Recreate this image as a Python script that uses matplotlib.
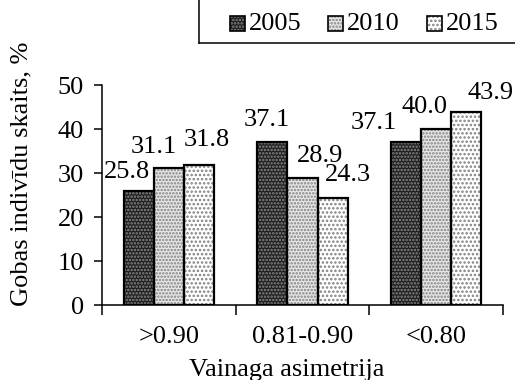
import matplotlib
matplotlib.use("Agg")
import matplotlib.pyplot as plt
from matplotlib.patches import Rectangle
from matplotlib.lines import Line2D
import numpy as np

plt.rcParams['font.family'] = ['Liberation Serif', 'DejaVu Serif']
plt.rcParams['hatch.linewidth'] = 1.2

# Data
categories = [">0.90", "0.81-0.90", "<0.80"]
years = ["2005", "2010", "2015"]
values = {
    "2005": [25.8, 37.1, 37.1],
    "2010": [31.1, 28.9, 40.0],
    "2015": [31.8, 24.3, 43.9],
}

# Fill styles per year: (background, dot colour, hatch)
styles = {
    "2005": ("#1e1e1e", "#8a8a8a", "....."),
    "2010": ("#e8e8e8", "#808080", "....."),
    "2015": ("#ffffff", "#808080", "...."),
}

# Label offsets (pixels) from the top centre of each bar
label_offsets = {
    "2005": [(-12, 19), (-6, 22), (-32, 19)],
    "2010": [(-15, 21), (18, 22), (-12, 22)],
    "2015": [(8, 25), (15, 23), (24, 19)],
}

W, H = 515, 380
fig = plt.figure(figsize=(W / 100, H / 100), dpi=100)
ax = fig.add_axes([102 / W, 1 - 305 / H, (503 - 102) / W, (305 - 85) / H])

FS = 19
x = np.arange(len(categories))
bw = 0.225

for i, yr in enumerate(years):
    fc, hc, hatch = styles[yr]
    pos = x + (i - 1) * bw
    ax.bar(pos, values[yr], bw, color=fc, edgecolor=hc, hatch=hatch,
           linewidth=0, zorder=2)
    ax.bar(pos, values[yr], bw, fill=False, edgecolor="black",
           linewidth=1.6, zorder=3)
    for xp, v, (dx, dy) in zip(pos, values[yr], label_offsets[yr]):
        ax.annotate(f"{v:.1f}", xy=(xp, v), xytext=(dx, dy),
                    textcoords="offset pixels", ha="center", va="center",
                    fontsize=FS, zorder=4)

ax.set_xlim(-0.5, 2.5)
ax.set_ylim(0, 50)
ax.set_yticks(range(0, 51, 10))
ax.set_xticks(x)
ax.set_xticklabels(categories)
ax.set_xticks([-0.5, 0.5, 1.5, 2.5], minor=True)
ax.tick_params(axis="x", which="major", length=0, pad=15, labelsize=FS)
ax.tick_params(axis="x", which="minor", length=7, width=1.1, direction="out")
ax.tick_params(axis="y", length=6, width=1.1, pad=7, labelsize=FS)

for s in ("top", "right"):
    ax.spines[s].set_visible(False)
for s in ("left", "bottom"):
    ax.spines[s].set_linewidth(1.1)

fig.text(287 / W, 1 - 376 / H, "Vainaga asimetrija", ha="center",
         va="baseline", fontsize=FS)
fig.text(21 / W, 1 - 174 / H, "Gobas indivīdu skaits, %", ha="center",
         va="center", rotation=90, fontsize=FS)

# Legend box with only left and bottom edges visible
fig.add_artist(Line2D([199 / W, 199 / W], [1, 1 - 43 / H], color="black",
                      linewidth=1.1, transform=fig.transFigure))
fig.add_artist(Line2D([199 / W, 1], [1 - 43 / H, 1 - 43 / H], color="black",
                      linewidth=1.1, transform=fig.transFigure))
legend_x = [230, 328, 427]
for lx, yr in zip(legend_x, years):
    fc, hc, hatch = styles[yr]
    fig.add_artist(Rectangle((lx / W, 1 - 31 / H), 15 / W, 15 / H,
                             facecolor=fc, edgecolor=hc, hatch=hatch,
                             linewidth=0, transform=fig.transFigure))
    fig.add_artist(Rectangle((lx / W, 1 - 31 / H), 15 / W, 15 / H,
                             fill=False, edgecolor="black", linewidth=1.2,
                             transform=fig.transFigure))
    fig.text((lx + 19) / W, 1 - 23.5 / H, yr, ha="left", va="center",
             fontsize=FS)

fig.savefig("out.png", dpi=100)
